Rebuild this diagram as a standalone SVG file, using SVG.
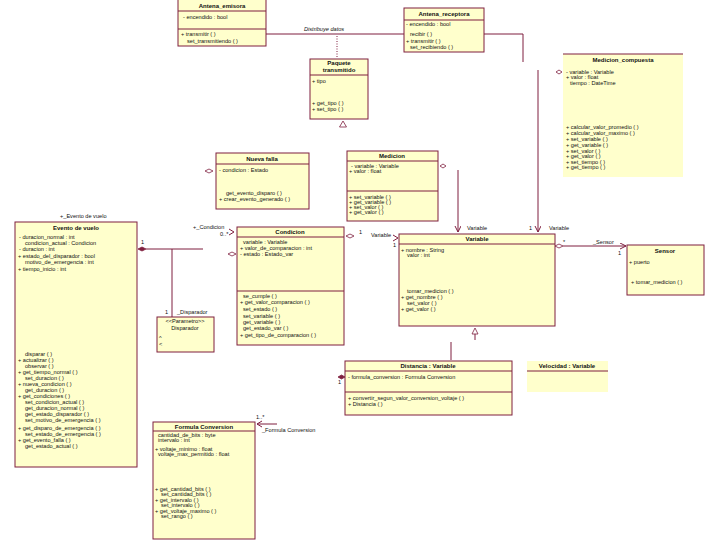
<svg xmlns="http://www.w3.org/2000/svg" width="720" height="540" viewBox="0 0 720 540">
<style>
.box{fill:#FFFFCC;stroke:#7F1F3F;stroke-width:1}
.fill{fill:#FFFFCC;stroke:none}
.dv{stroke:#7F1F3F;stroke-width:1}
.ln{stroke:#7F1F3F;stroke-width:1;fill:none}
text{font-family:"Liberation Sans",Arial,sans-serif;font-size:5.6px;fill:#111}
.h{font-weight:bold;text-anchor:middle;font-size:6px}
.it{font-style:italic}
.od{fill:#fff;stroke:#7F1F3F;stroke-width:0.8}
.fd{fill:#7F1F3F;stroke:#7F1F3F;stroke-width:0.8}
</style>
<defs>
<marker id="arr" markerWidth="8" markerHeight="8" refX="6" refY="3" orient="auto" markerUnits="userSpaceOnUse">
<path d="M0,0 L6,3 L0,6" fill="none" stroke="#7F1F3F" stroke-width="1"/>
</marker>
</defs>
<rect width="720" height="540" fill="#fff"/>

<g id="connectors">
<line class="ln" x1="266" y1="34" x2="404" y2="34"/>
<text class="it" x="304" y="31">Distribuye datos</text>
<line class="ln" x1="337" y1="36" x2="337" y2="57" stroke-dasharray="1,1.5"/>
<polyline class="ln" points="484,34 523,34 523,62"/>
<polygon class="od" points="343,121 339.5,127 346.5,127"/>
<line class="ln" x1="538" y1="70" x2="538" y2="232" marker-end="url(#arr)"/>
<polygon class="od" points="556,72 559,70 562,72 559,74"/>
<text x="529" y="230">1</text>
<text x="549" y="230">Variable</text>
<line class="ln" x1="458" y1="170" x2="458" y2="232" marker-end="url(#arr)"/>
<polygon class="od" points="440,166 443,164 446,166 443,168"/>
<text x="467" y="230">Variable</text>
<polygon class="od" points="205,171 209,169 213,171 209,173"/>
<text x="60" y="218">+_Evento de vuelo</text>
<line class="ln" x1="146" y1="249" x2="203" y2="249"/>
<polygon class="fd" points="138,249 142,247 146,249 142,251"/>
<text x="141" y="244">1</text>
<line class="ln" x1="172" y1="249" x2="172" y2="317"/>
<text x="165" y="314">1</text>
<text x="177" y="314">_Disparador</text>
<text x="193" y="229">+_Condicion</text>
<text x="220" y="236">0..*</text>
<polyline class="ln" points="229,229 234,232 229,235"/>
<polygon class="od" points="228,254 232,252 236,254 232,256"/>
<polygon class="od" points="346,236 350,234 354,236 350,238"/>
<text x="359" y="234">1</text>
<text x="371" y="237">Variable</text>
<polyline class="ln" points="393,235 398,238 393,241"/>
<text x="393" y="247">1</text>
<line class="ln" x1="563" y1="246" x2="626" y2="246" marker-end="url(#arr)"/>
<polygon class="od" points="555,246 559,244 563,246 559,248"/>
<text x="563" y="244">*</text>
<text x="593" y="244">_Sensor</text>
<text x="618" y="255">1</text>
<polygon class="od" points="475,328 472,334 478,334"/>
<line class="ln" x1="475" y1="334" x2="475" y2="340"/>
<line class="ln" x1="451" y1="342" x2="451" y2="360"/>
<polygon class="fd" points="338,377 341.5,375 345,377 341.5,379"/>
<text x="338" y="384">1</text>
<line class="ln" x1="257" y1="424" x2="277" y2="424"/>
<polyline class="ln" points="262,421 257,424 262,427"/>
<text x="256" y="419">1..*</text>
<text x="262" y="432">_Formula Conversion</text>
</g>

<g id="antena_emisora">
<rect class="box" x="178" y="-1" width="88" height="47"/>
<line class="dv" x1="178" y1="11" x2="266" y2="11"/>
<line class="dv" x1="178" y1="29" x2="266" y2="29"/>
<text class="h" x="222" y="8">Antena_emisora</text>
<text x="183" y="19">- encendido : bool</text>
<text x="181" y="36">+ transmitir ( )</text>
<text x="187" y="43">set_transmitiendo ( )</text>
</g>

<g id="antena_receptora">
<rect class="box" x="404" y="8" width="80" height="44"/>
<line class="dv" x1="404" y1="20" x2="484" y2="20"/>
<text class="h" x="444" y="16">Antena_receptora</text>
<text x="406" y="26">- encendido : bool</text>
<text x="410" y="36">recibir ( )</text>
<text x="406" y="43">+ transmitir ( )</text>
<text x="410" y="49">set_recibiendo ( )</text>
</g>

<g id="paquete_transmitido">
<rect class="box" x="310" y="59" width="58" height="60"/>
<line class="dv" x1="310" y1="75" x2="368" y2="75"/>
<text class="h" x="339" y="65">Paquete</text>
<text class="h" x="339" y="72">transmitido</text>
<text x="312" y="83">+ tipo</text>
<text x="312" y="105">+ get_tipo ( )</text>
<text x="312" y="111">+ set_tipo ( )</text>
</g>

<g id="medicion_compuesta">
<rect class="fill" x="563" y="54" width="120" height="123"/>
<line class="dv" x1="563" y1="54" x2="683" y2="54"/>
<text class="h" x="623" y="62">Medicion_compuesta</text>
<text x="566" y="74">- variable : Variable</text>
<text x="566" y="79">+ valor : float</text>
<text x="570" y="85">tiempo : DateTime</text>
<text x="566" y="129">+ calcular_valor_promedio ( )</text>
<text x="566" y="135">+ calcular_valor_maximo ( )</text>
<text x="566" y="141">+ set_variable ( )</text>
<text x="566" y="147">+ get_variable ( )</text>
<text x="566" y="153">+ set_valor ( )</text>
<text x="566" y="158">+ get_valor ( )</text>
<text x="566" y="164">+ set_tiempo ( )</text>
<text x="566" y="169">+ get_tiempo ( )</text>
</g>

<g id="nueva_falla">
<rect class="box" x="216" y="153" width="93" height="56"/>
<line class="dv" x1="216" y1="164" x2="309" y2="164"/>
<text class="h" x="262" y="161">Nueva falla</text>
<text x="219" y="172">- condicion : Estado</text>
<text x="226" y="195">get_evento_disparo ( )</text>
<text x="219" y="201">+ crear_evento_generado ( )</text>
</g>

<g id="medicion">
<rect class="box" x="347" y="151" width="91" height="70"/>
<line class="dv" x1="347" y1="161" x2="438" y2="161"/>
<line class="dv" x1="347" y1="191" x2="438" y2="191"/>
<text class="h" x="392" y="158">Medicion</text>
<text x="351" y="168">- variable : Variable</text>
<text x="349" y="173">+ valor : float</text>
<text x="349" y="199">+ set_variable ( )</text>
<text x="349" y="204">+ get_variable ( )</text>
<text x="349" y="209">+ set_valor ( )</text>
<text x="349" y="214">+ get_valor ( )</text>
</g>

<g id="evento_de_vuelo">
<rect class="box" x="15" y="222" width="122" height="245"/>
<text class="h" x="76" y="230">Evento de vuelo</text>
<text x="19" y="239">- duracion_normal : int</text>
<text x="25" y="245">condicion_actual : Condicion</text>
<text x="19" y="251">- duracion : int</text>
<text x="18" y="258">+ estado_del_disparador : bool</text>
<text x="25" y="264">motivo_de_emergencia : int</text>
<text x="18" y="271">+ tiempo_inicio : int</text>
<text x="25" y="356">disparar ( )</text>
<text x="18" y="362">+ actualizar ( )</text>
<text x="25" y="368">observar ( )</text>
<text x="18" y="374">+ get_tiempo_normal ( )</text>
<text x="25" y="380">set_duracion ( )</text>
<text x="18" y="386">+ nueva_condicion ( )</text>
<text x="25" y="392">get_duracion ( )</text>
<text x="18" y="398">+ get_condiciones ( )</text>
<text x="25" y="404">set_condicion_actual ( )</text>
<text x="25" y="410">get_duracion_normal ( )</text>
<text x="25" y="416">get_estado_disparador ( )</text>
<text x="25" y="422">set_motivo_de_emergencia ( )</text>
<text x="18" y="430">+ get_disparo_de_emergencia ( )</text>
<text x="25" y="436">set_estado_de_emergencia ( )</text>
<text x="18" y="442">+ get_evento_falla ( )</text>
<text x="25" y="448">get_estado_actual ( )</text>
</g>

<g id="disparador">
<rect class="box" x="157" y="317" width="57" height="35"/>
<text x="185" y="323" text-anchor="middle">&lt;&lt;Parametro&gt;&gt;</text>
<text x="185" y="330" text-anchor="middle">Disparador</text>
<text x="159" y="340">^</text>
<text x="159" y="346">&lt;</text>
</g>

<g id="condicion">
<rect class="box" x="237" y="227" width="107" height="118"/>
<line class="dv" x1="237" y1="237" x2="344" y2="237"/>
<line class="dv" x1="237" y1="291" x2="344" y2="291"/>
<text class="h" x="290" y="234">Condicion</text>
<text x="243" y="244">variable : Variable</text>
<text x="240" y="250">+ valor_de_comparacion : int</text>
<text x="240" y="256">- estado : Estado_var</text>
<text x="243" y="298">se_cumple ( )</text>
<text x="240" y="304">+ get_valor_comparacion ( )</text>
<text x="243" y="311">set_estado ( )</text>
<text x="243" y="318">set_variable ( )</text>
<text x="243" y="324">get_variable ( )</text>
<text x="243" y="330">get_estado_var ( )</text>
<text x="240" y="337">+ get_tipo_de_comparacion ( )</text>
</g>

<g id="variable">
<rect class="box" x="399" y="234" width="156" height="92"/>
<line class="dv" x1="399" y1="244" x2="555" y2="244"/>
<text class="h" x="477" y="241">Variable</text>
<text x="401" y="252">+ nombre : String</text>
<text x="407" y="257">valor : int</text>
<text x="407" y="293">tomar_medicion ( )</text>
<text x="401" y="299">+ get_nombre ( )</text>
<text x="407" y="305">set_valor ( )</text>
<text x="401" y="311">+ get_valor ( )</text>
</g>

<g id="sensor">
<rect class="box" x="627" y="245" width="77" height="50"/>
<text class="h" x="665" y="253">Sensor</text>
<text x="629" y="264">+ puerto</text>
<text x="631" y="284">+ tomar_medicion ( )</text>
</g>

<g id="distancia">
<rect class="box" x="345" y="361" width="167" height="54"/>
<line class="dv" x1="345" y1="371" x2="512" y2="371"/>
<line class="dv" x1="345" y1="392" x2="512" y2="392"/>
<text class="h" x="428" y="368">Distancia : Variable</text>
<text x="348" y="379">- formula_conversion : Formula Conversion</text>
<text x="348" y="400">+ convertir_segun_valor_conversion_voltaje ( )</text>
<text x="348" y="406">+ Distancia ( )</text>
</g>

<g id="velocidad">
<rect class="fill" x="527" y="361" width="81" height="31"/>
<line class="dv" x1="527" y1="371" x2="608" y2="371"/>
<text class="h" x="567" y="368">Velocidad : Variable</text>
</g>

<g id="formula_conversion">
<rect class="box" x="153" y="422" width="102" height="117"/>
<line class="dv" x1="153" y1="431" x2="255" y2="431"/>
<text class="h" x="204" y="429">Formula Conversion</text>
<text x="158" y="437">cantidad_de_bits : byte</text>
<text x="158" y="442">intervalo : int</text>
<text x="155" y="451">+ voltaje_minimo : float</text>
<text x="158" y="456">voltaje_max_permitido : float</text>
<text x="155" y="491">+ get_cantidad_bits ( )</text>
<text x="161" y="496">set_cantidad_bits ( )</text>
<text x="155" y="502">+ get_intervalo ( )</text>
<text x="161" y="507">set_intervalo ( )</text>
<text x="155" y="513">+ get_voltaje_maximo ( )</text>
<text x="161" y="518">set_rango ( )</text>
</g>
</svg>
